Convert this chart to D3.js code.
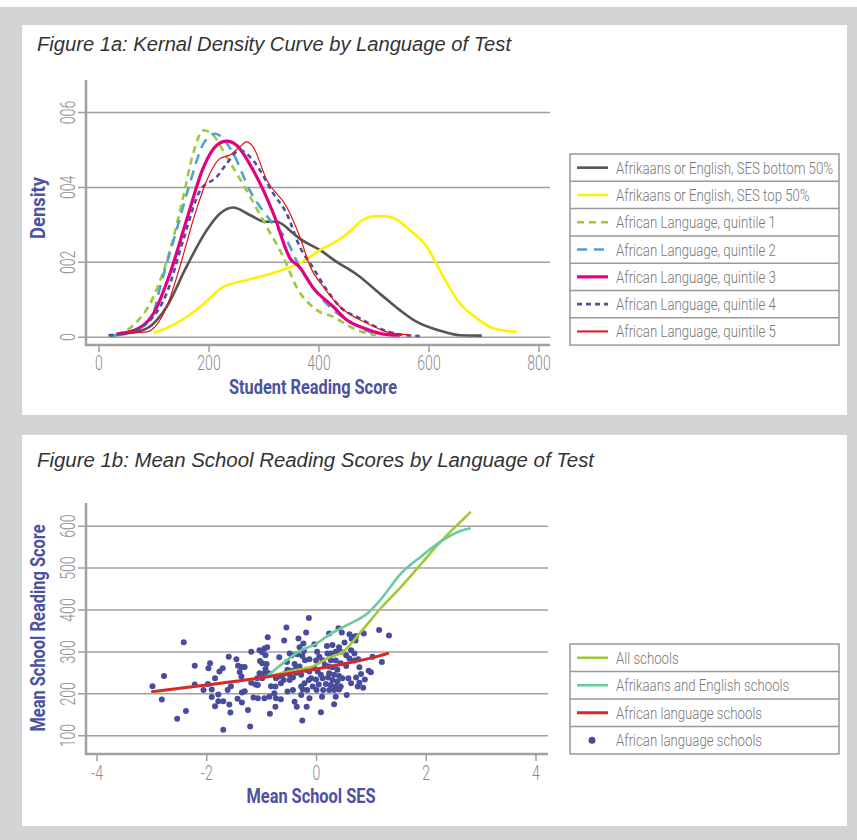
<!DOCTYPE html>
<html>
<head>
<meta charset="utf-8">
<title>Kernel density and school reading scores</title>
<script src="https://d3js.org/d3.v7.min.js"></script>
<style>
  * { margin:0; padding:0; }
  body { background:#d3d4d6; width:857px; height:840px; overflow:hidden; }
  svg text { font-family:Roboto,'Liberation Sans',sans-serif; }
  .tick text { fill:#8a8a8a; font-size:20px; font-weight:300; }
  .fig-title { font-family:'Liberation Sans',Arial,sans-serif !important; font-style:italic; font-size:20px; fill:#333; }
  .axis-title { font-weight:bold; fill:#4c51a0; font-size:20px; }
  .legend text { fill:#777; font-size:17px; font-weight:300; }
</style>
</head>
<body>
<svg id="chart" width="857" height="840"></svg>
<script>
// ---- figure 1a data (score, density) ----
const scoreTicks = [0, 200, 400, 600, 800];
const densityTicks = [0, 0.002, 0.004, 0.006];
const densityTickLabels = ["0", "002", "004", "006"];

const sesBottom50 = [[20,0.00003],[50,0.00008],[88,0.00022],[124,0.0008],[160,0.00187],[197,0.00285],[221,0.00329],[245,0.00345],[275,0.00325],[303,0.00307],[324,0.00307],[354,0.00276],[366,0.00262],[403,0.00231],[433,0.002],[466,0.0017],[518,0.00107],[548,0.00071],[578,0.0004],[621,0.00016],[657,0.00004],[697,0.00003]];
const sesTop50 = [[100,0.00009],[142,0.00036],[185,0.0008],[227,0.00133],[269,0.00151],[306,0.00165],[342,0.00182],[366,0.00197],[403,0.00231],[445,0.00267],[463,0.00289],[475,0.00307],[506,0.00322],[530,0.0032],[566,0.00285],[597,0.0024],[627,0.0016],[657,0.00089],[688,0.00049],[718,0.00022],[760,0.00013]];
const quintile1 = [[33,0.00005],[63,0.0003],[100,0.00107],[130,0.00231],[154,0.00373],[172,0.00489],[191,0.00551],[206,0.00542],[233,0.0048],[269,0.00391],[306,0.00293],[336,0.00213],[360,0.00133],[397,0.00071],[427,0.00053],[457,0.00027],[488,0.00009],[505,0.00004]];
const quintile2 = [[25,0.00003],[70,0.0002],[100,0.00065],[112,0.00133],[142,0.00285],[166,0.00409],[191,0.00516],[212,0.00542],[245,0.00489],[275,0.00391],[312,0.00311],[342,0.00258],[366,0.00185],[385,0.00142],[403,0.00107],[427,0.00071],[457,0.0004],[488,0.00016],[512,0.00005]];
const quintile3 = [[33,0.00007],[70,0.0002],[100,0.00062],[130,0.00169],[160,0.00311],[191,0.00453],[215,0.00511],[233,0.00522],[251,0.00511],[281,0.00445],[318,0.00329],[348,0.0021],[366,0.00185],[391,0.00129],[427,0.0008],[451,0.00045],[488,0.0002],[518,0.00007],[548,0.00004]];
const quintile4 = [[18,0.00004],[50,0.0001],[88,0.00036],[124,0.00116],[154,0.00258],[185,0.00391],[215,0.00427],[233,0.00462],[257,0.00498],[281,0.00471],[318,0.00382],[342,0.00329],[366,0.0024],[391,0.00182],[415,0.00125],[439,0.0008],[475,0.00049],[518,0.00018],[548,0.00006],[584,0.00002]];
const quintile5 = [[33,0.00009],[60,0.0001],[88,0.00013],[124,0.0008],[148,0.00187],[172,0.00311],[197,0.00418],[221,0.00476],[239,0.00485],[257,0.00507],[269,0.0052],[281,0.00507],[306,0.00418],[342,0.00347],[366,0.00267],[385,0.00187],[409,0.00133],[439,0.0008],[488,0.00036],[530,0.00011],[566,0.00005]];

const densityLabels = ["Afrikaans or English, SES bottom 50%", "Afrikaans or English, SES top 50%",
  "African Language, quintile 1", "African Language, quintile 2", "African Language, quintile 3",
  "African Language, quintile 4", "African Language, quintile 5"];

// ---- figure 1b data (mean SES, mean reading score) ----
const sesTicks = [-4, -2, 0, 2, 4];
const sesTickLabels = ["-4", "-2", "0", "2", "4"];
const readTicks = [100, 200, 300, 400, 500, 600];

const allSchools = [[-3,202],[-2,220],[-1,237],[-0.5,252],[0,268],[0.2,283],[0.5,300],[0.82,347],[1.18,403],[1.55,454],[1.91,508],[2.27,562],[2.64,610],[2.82,633]];
const afrEngSchools = [[-0.9,240],[-0.6,272],[-0.31,300],[0,318],[0.24,340],[0.55,362],[0.94,391],[1.18,424],[1.55,486],[1.91,526],[2.27,562],[2.64,588],[2.82,594]];
const africanSchools = [[-3,204],[-2,220],[-1,237],[0,258],[0.5,270],[1,284],[1.33,296]];

const schoolPoints = [
  [-2.41,322],[-2.98,217],[-2.77,241],[-2.81,185],[-2.53,139],[-2.37,158],[-2.21,266],[-2.21,221],[-2.05,208],[-1.97,222],
  [-1.96,260],[-1.93,272],[-1.90,209],[-1.90,191],[-1.84,236],[-1.84,169],[-1.78,197],[-1.78,181],[-1.76,252],[-1.70,260],
  [-1.69,181],[-1.69,113],[-1.61,208],[-1.59,287],[-1.58,173],[-1.56,154],[-1.55,217],[-1.45,281],[-1.42,266],[-1.43,187],
  [-1.39,251],[-1.36,263],[-1.36,240],[-1.35,202],[-1.35,178],[-1.30,263],[-1.30,205],[-1.24,160],[-1.20,121],[-1.18,299],
  [-1.18,225],
  [-0.13,380],[-0.54,357],[-0.18,345],[-0.88,334],[-0.58,326],[-0.32,331],[-0.23,319],[-1.03,303],[-0.98,298],[-0.94,307],
  [-0.89,310],[-0.92,291],[-1.02,277],[-0.98,272],[-0.90,270],[-0.92,258],[-0.94,248],[-1.03,248],[-1.07,236],[-1.10,221],
  [-1.06,220],[-0.98,236],[-0.86,248],[-0.67,286],[-0.53,275],[-0.48,295],[-0.44,291],[-0.34,293],[-0.30,310],[-0.22,301],
  [-0.25,289],[-0.39,270],[-0.36,260],[-0.45,254],[-0.36,249],[-0.30,264],[-0.27,244],[-0.20,279],[-0.12,281],[-0.03,317],
  [0.02,299],[0.00,278],[-0.03,260],[0.06,287],[0.12,279],[0.20,313],[0.21,295],[0.16,268],[0.23,264],[0.24,248],
  [0.22,238],[0.18,222],[0.13,208],[0.11,192],[0.05,221],[0.01,208],[-0.06,216],[-0.09,236],[-0.13,232],[-0.16,208],
  [-0.21,224],[-0.24,209],[-0.27,196],[-0.35,168],[-0.39,180],[-0.48,232],[-0.52,204],[-0.59,232],[-0.68,240],[-0.73,236],
  [-0.74,216],[-0.76,200],[-0.73,188],[-0.74,168],[-0.64,186],[-0.85,192],[-0.84,151],[-0.94,188],[-1.06,188],[-1.14,190],
  [-0.52,256],[-0.55,248],[-0.61,244],[-0.48,244],[-0.42,238],[-0.18,256],[-0.12,252],[0.03,252],[0.09,244],[0.12,236],
  [0.00,233],[-0.17,168],[-0.25,135],[0.09,155],[-0.12,188],[-0.27,216],[-0.42,208],[-0.64,224],[-0.82,217],
  [0.41,355],[0.24,343],[0.47,345],[0.61,341],[0.67,335],[0.73,337],[0.72,326],[0.65,330],[0.87,343],[1.15,351],
  [1.33,338],[0.52,321],[0.42,310],[0.30,315],[0.27,295],[0.36,299],[0.45,299],[0.55,291],[0.64,303],[0.70,295],
  [0.61,283],[0.70,278],[0.77,281],[1.03,287],[1.20,275],[0.79,262],[0.96,254],[1.00,250],[0.55,265],[0.45,272],
  [0.36,278],[0.27,279],[0.30,262],[0.39,256],[0.33,244],[0.42,241],[0.48,236],[0.30,232],[0.39,228],[0.45,216],
  [0.36,216],[0.27,220],[0.24,208],[0.33,208],[0.42,209],[0.36,192],[0.33,174],[0.56,196],[0.59,236],[0.64,224],
  [0.73,238],[0.79,225],[0.76,216],[0.86,213],[0.89,233],[0.82,246]
];

const schoolLabels = ["All schools", "Afrikaans and English schools", "African language schools", "African language schools"];

// ---- drawing ----
const svg = d3.select("#chart");
svg.append("rect").attr("width", 857).attr("height", 840).attr("fill", "#d3d4d6");
svg.append("rect").attr("width", 857).attr("height", 7).attr("fill", "#fff");
svg.append("rect").attr("x", 22).attr("y", 25).attr("width", 825).attr("height", 390).attr("fill", "#fff");
svg.append("rect").attr("x", 22).attr("y", 435).attr("width", 825).attr("height", 391).attr("fill", "#fff");

const axisGrey = "#a0a0a0";

// the original uses a condensed face; squeeze the installed one horizontally
function squeeze(sel, k) {
  sel.each(function () {
    const w = this.getComputedTextLength();
    d3.select(this).attr("textLength", w * k).attr("lengthAdjust", "spacingAndGlyphs");
  });
}
function fitTo(sel, width) {
  sel.attr("textLength", width).attr("lengthAdjust", "spacingAndGlyphs");
}

function styleTicks(g) {
  g.select(".domain").remove();
  g.selectAll(".tick line").attr("stroke", axisGrey).attr("stroke-width", 1.5);
  squeeze(g.selectAll(".tick text"), 0.7);
}

function rotateYLabels(g) {
  g.selectAll(".tick text")
    .attr("x", 0).attr("dy", 0)
    .attr("text-anchor", "middle")
    .attr("transform", "translate(-3,0) rotate(-90)");
}

// Figure 1a
svg.append("text").attr("class", "fig-title").attr("x", 37).attr("y", 51)
  .text("Figure 1a: Kernal Density Curve by Language of Test").call(fitTo, 474);

const x1 = d3.scaleLinear().domain([0, 800]).range([98.5, 538.5]);
const y1 = d3.scaleLinear().domain([0, 0.006]).range([336.7, 112]);

svg.append("g").attr("transform", "translate(78,0)")
  .call(d3.axisLeft(y1).tickValues(densityTicks).tickFormat((d, i) => densityTickLabels[i]).tickSize(-472))
  .call(styleTicks).call(rotateYLabels);

svg.append("g").attr("transform", "translate(0,345)")
  .call(d3.axisBottom(x1).tickValues(scoreTicks).tickFormat(d3.format("d")).tickSize(7).tickPadding(4))
  .call(styleTicks);

svg.append("line").attr("x1", 86).attr("x2", 86).attr("y1", 80).attr("y2", 346)
  .attr("stroke", axisGrey).attr("stroke-width", 2.5);
svg.append("line").attr("x1", 85).attr("x2", 550).attr("y1", 345).attr("y2", 345)
  .attr("stroke", axisGrey).attr("stroke-width", 2.5);

const densityStyles = [
  { color: "#555555", width: 2.6, dash: null },
  { color: "#fff200", width: 2.6, dash: null },
  { color: "#9dc93c", width: 2.6, dash: "7,5" },
  { color: "#4fa3c7", width: 2.6, dash: "10,7" },
  { color: "#e5007d", width: 3.2, dash: null },
  { color: "#4b50a0", width: 2.6, dash: "5,4" },
  { color: "#e2131b", width: 1.2, dash: null }
];
const densitySeries = [sesBottom50, sesTop50, quintile1, quintile2, quintile3, quintile4, quintile5];

const line1 = d3.line().x(d => x1(d[0])).y(d => y1(d[1])).curve(d3.curveMonotoneX);
densitySeries.forEach((s, i) => {
  svg.append("path").datum(s).attr("d", line1).attr("fill", "none")
    .attr("stroke", densityStyles[i].color).attr("stroke-width", densityStyles[i].width)
    .attr("stroke-dasharray", densityStyles[i].dash);
});

svg.append("text").attr("class", "axis-title").attr("x", 313).attr("y", 394)
  .attr("text-anchor", "middle").text("Student Reading Score").call(fitTo, 168);
svg.append("text").attr("class", "axis-title").attr("transform", "translate(45,208) rotate(-90)")
  .attr("text-anchor", "middle").text("Density").call(fitTo, 62);

// one squeeze factor for both legends, set by the longest label of the first one
let legendK = null;
function drawLegend(x, y, rowH, labels, styles) {
  const g = svg.append("g").attr("class", "legend").attr("transform", `translate(${x},${y})`);
  g.append("rect").attr("width", 269).attr("height", rowH * labels.length)
    .attr("fill", "#fff").attr("stroke", "#999").attr("stroke-width", 1.5);
  labels.forEach((lab, i) => {
    const cy = rowH * i + rowH / 2;
    if (i > 0) g.append("line").attr("x1", 0).attr("x2", 269).attr("y1", rowH * i).attr("y2", rowH * i)
      .attr("stroke", "#999").attr("stroke-width", 1.5);
    const st = styles[i];
    if (st.dot) {
      g.append("circle").attr("cx", 22).attr("cy", cy).attr("r", 3.5).attr("fill", st.color);
    } else {
      g.append("line").attr("x1", 7).attr("x2", 38).attr("y1", cy).attr("y2", cy)
        .attr("stroke", st.color).attr("stroke-width", Math.max(st.width, 2))
        .attr("stroke-dasharray", st.dash);
    }
    g.append("text").attr("x", 46).attr("y", cy + 6).text(lab);
  });
  if (legendK === null) legendK = 217 / g.select("text").node().getComputedTextLength();
  squeeze(g.selectAll("text"), legendK);
}
drawLegend(570, 154, 27.3, densityLabels, densityStyles);

// Figure 1b
svg.append("text").attr("class", "fig-title").attr("x", 37).attr("y", 467)
  .text("Figure 1b: Mean School Reading Scores by Language of Test").call(fitTo, 557);

const x2 = d3.scaleLinear().domain([-4, 4]).range([96.5, 535.5]);
const y2 = d3.scaleLinear().domain([100, 600]).range([735.2, 525.7]);

svg.append("g").attr("transform", "translate(78,0)")
  .call(d3.axisLeft(y2).tickValues(readTicks).tickFormat(d3.format("d")).tickSize(-470))
  .call(styleTicks).call(rotateYLabels);

svg.append("g").attr("transform", "translate(0,754)")
  .call(d3.axisBottom(x2).tickValues(sesTicks).tickFormat((d, i) => sesTickLabels[i]).tickSize(7).tickPadding(5))
  .call(styleTicks);

svg.append("line").attr("x1", 86).attr("x2", 86).attr("y1", 503).attr("y2", 755)
  .attr("stroke", axisGrey).attr("stroke-width", 2.5);
svg.append("line").attr("x1", 85).attr("x2", 548).attr("y1", 754).attr("y2", 754)
  .attr("stroke", axisGrey).attr("stroke-width", 2.5);

const dotColor = "#474c9c";
svg.append("g").selectAll("circle").data(schoolPoints).join("circle")
  .attr("cx", d => x2(d[0])).attr("cy", d => y2(d[1])).attr("r", 3).attr("fill", dotColor);

const schoolStyles = [
  { color: "#a0c83a", width: 2.6, dash: null },
  { color: "#6acb9e", width: 2.6, dash: null },
  { color: "#d62a2a", width: 3, dash: null },
  { color: dotColor, dot: true }
];
const line2 = d3.line().x(d => x2(d[0])).y(d => y2(d[1])).curve(d3.curveMonotoneX);
[allSchools, afrEngSchools, africanSchools].forEach((s, i) => {
  svg.append("path").datum(s).attr("d", line2).attr("fill", "none")
    .attr("stroke", schoolStyles[i].color).attr("stroke-width", schoolStyles[i].width);
});

svg.append("text").attr("class", "axis-title").attr("x", 311).attr("y", 803)
  .attr("text-anchor", "middle").text("Mean School SES").call(fitTo, 129);
svg.append("text").attr("class", "axis-title").attr("transform", "translate(45,628) rotate(-90)")
  .attr("text-anchor", "middle").text("Mean School Reading Score").call(fitTo, 207);

drawLegend(570, 644, 27.5, schoolLabels, schoolStyles);
</script>
</body>
</html>
